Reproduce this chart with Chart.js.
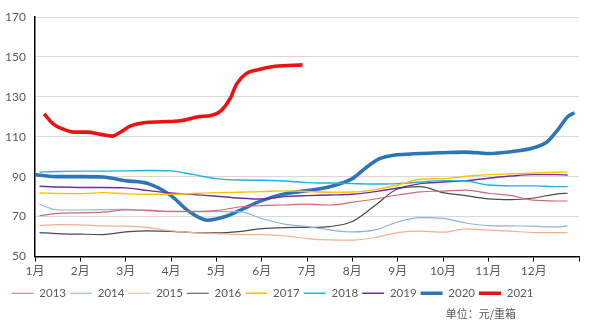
<!DOCTYPE html>
<html>
<head>
<meta charset="utf-8">
<script src="https://cdn.jsdelivr.net/npm/chart.js@4/dist/chart.umd.min.js"></script>
<style>
  html, body { margin: 0; padding: 0; background: #fff; }
  #wrap { width: 590px; height: 332px; }
</style>
</head>
<body>
<div id="wrap"><canvas id="chart"></canvas></div>
<script>
const monthLabels = ['1月', '2月', '3月', '4月', '5月', '6月', '7月', '8月', '9月', '10月', '11月', '12月'];
const yTicks = [50, 70, 90, 110, 130, 150, 170];
const unitText = '单位：元/重箱';

// months since 1 Jan, shared by the thin lines (2013-2019)
const halfMonths = [0.1, 0.5, 1, 1.5, 2, 2.5, 3, 3.5, 4, 4.5, 5, 5.5, 6, 6.5, 7, 7.5, 8, 8.5, 9, 9.5, 10, 10.5, 11, 11.5, 11.75];

const y2013 = [70.5, 71.6, 71.9, 72.2, 73.3, 73.2, 72.6, 72.6, 73, 74.8, 75.5, 75.8, 76.2, 75.8, 77.2, 78.8, 80.8, 82.4, 82.8, 83.3, 81.7, 80.5, 78.2, 77.8, 77.8];
const y2014 = [76.3, 73.3, 73.3, 73.5, 73.6, 72.8, 72.5, 72.5, 72.5, 72.5, 69, 66.2, 65, 63.3, 62.3, 63.3, 67.3, 69.5, 69.1, 66.8, 65.5, 65.3, 65.2, 64.8, 65.3];
const y2015 = [65.5, 66, 65.8, 65.3, 65.2, 64.5, 62.8, 62, 61.5, 61, 61, 60.3, 59, 58.3, 58.2, 59.5, 62, 62.7, 62.2, 63.8, 63.2, 62.7, 62, 62, 62];
const y2016 = [62, 61.5, 61.2, 61, 62.3, 62.8, 62.6, 62, 61.8, 62.5, 64, 64.5, 64.6, 65, 67.5, 75.5, 83.8, 85, 82, 80.5, 78.9, 78.5, 79.3, 81.3, 81.7];
const y2017 = [81.8, 81.6, 81.5, 82, 81.4, 81.2, 81.2, 81.6, 82, 82.2, 82.5, 82.9, 82.6, 82.2, 82.3, 83.5, 85.8, 88.7, 89, 90.2, 91, 91.4, 91.8, 92.2, 92.4];
const y2018 = [92.3, 92.6, 92.8, 92.8, 92.9, 93.1, 92.9, 91, 89, 88.3, 88.2, 87.8, 87, 86.8, 86.5, 86.3, 86.5, 87.3, 88, 87.8, 85.8, 85.4, 85.4, 85, 85];
const y2019 = [85.2, 84.8, 84.6, 84.6, 84.4, 83, 81.8, 81, 80.2, 79.3, 78.8, 80, 80.5, 80.8, 81.2, 82.5, 84.3, 86.5, 87.3, 88, 89.2, 90.3, 91, 91, 90.8];

const x2020 = [0, 0.5, 1, 1.5, 2, 2.5, 3, 3.4, 3.8, 4.2, 4.6, 5, 5.5, 6, 6.5, 7, 7.3, 7.6, 7.9, 8.2, 8.5, 9, 9.5, 10, 10.5, 11, 11.3, 11.55, 11.75, 11.9];
const y2020 = [91, 90, 90, 89.8, 88, 86.5, 80.5, 72.5, 68.2, 70, 74, 78, 81.3, 83, 85, 89, 94.5, 99, 100.7, 101.2, 101.6, 102, 102.3, 101.6, 102.5, 104.5, 107.5, 114, 120, 122];

const x2021 = [0.2, 0.4, 0.6, 0.85, 1.15, 1.45, 1.7, 1.9, 2.1, 2.4, 2.8, 3.2, 3.6, 3.9, 4.1, 4.3, 4.45, 4.65, 4.9, 5.3, 5.9];
const y2021 = [121.5, 116.5, 114, 112.3, 112.3, 111.2, 110.3, 112.5, 115.3, 117, 117.5, 118, 120, 120.8, 123, 129, 136.5, 141.5, 143.5, 145.3, 146];

function pts(xs, ys) {
    return xs.map((x, i) => ({ x: x, y: ys[i] }));
}

function series(label, xs, ys, color, width) {
    return {
        label: label,
        data: pts(xs, ys),
        borderColor: color,
        backgroundColor: color,
        borderWidth: width,
        pointRadius: 0,
        cubicInterpolationMode: 'monotone',
        fill: false
    };
}

const datasets = [
    series('2013', halfMonths, y2013, '#cd6b72', 1.2),
    series('2014', halfMonths, y2014, '#8fb3d1', 1.2),
    series('2015', halfMonths, y2015, '#f2b08e', 1.2),
    series('2016', halfMonths, y2016, '#4a4a4a', 1.2),
    series('2017', halfMonths, y2017, '#ffc000', 1.4),
    series('2018', halfMonths, y2018, '#22b0dc', 1.4),
    series('2019', halfMonths, y2019, '#6f2f9f', 1.4),
    series('2020', x2020, y2020, '#2e75b6', 3.6),
    series('2021', x2021, y2021, '#ee1111', 3.6)
];

const textFont = 'Lato, "Noto Sans CJK SC", sans-serif';

// nudge the legend so it sits left like the original, and write the unit note
const layoutTweaks = {
    id: 'layoutTweaks',
    afterLayout(chart) {
        const lg = chart.legend;
        lg.left -= 17; lg.right -= 17;
        lg.top += 5; lg.bottom += 5;
    },
    afterDraw(chart) {
        const ctx = chart.ctx;
        ctx.save();
        ctx.font = '11px "Noto Sans CJK SC", sans-serif';
        ctx.fillStyle = '#595959';
        ctx.textAlign = 'right';
        ctx.textBaseline = 'middle';
        ctx.fillText(unitText, 516, 314);
        ctx.restore();
    }
};

new Chart(document.getElementById('chart'), {
    type: 'line',
    data: { datasets: datasets },
    plugins: [layoutTweaks],
    options: {
        responsive: true,
        maintainAspectRatio: false,
        animation: false,
        layout: { padding: { left: 0, right: 11, top: 17, bottom: 28 } },
        plugins: {
            tooltip: { enabled: false },
            legend: {
                position: 'bottom',
                align: 'center',
                labels: {
                    usePointStyle: true,
                    pointStyle: 'line',
                    pointStyleWidth: 22,
                    padding: 4,
                    color: '#595959',
                    font: { family: textFont, size: 11.5 }
                }
            }
        },
        scales: {
            x: {
                type: 'linear',
                min: 0,
                max: 12,
                afterBuildTicks: s => { s.ticks = monthLabels.map((_, i) => ({ value: i })).concat([{ value: 12 }]); },
                afterFit: s => { s.height = 22; },
                ticks: {
                    autoSkip: false,
                    maxRotation: 0,
                    padding: 2,
                    color: '#595959',
                    font: { family: textFont, size: 12 },
                    callback: v => monthLabels[v] || ''
                },
                grid: { drawOnChartArea: false, drawTicks: true, tickLength: 5, color: '#000', lineWidth: 1 },
                border: { color: '#000', width: 1.5 }
            },
            y: {
                min: 50,
                max: 170,
                afterBuildTicks: s => { s.ticks = yTicks.map(v => ({ value: v })); },
                afterFit: s => { s.width = 35; },
                ticks: {
                    padding: 9,
                    color: '#595959',
                    font: { family: textFont, size: 12 }
                },
                grid: { color: '#d9d9d9', lineWidth: 1, drawTicks: false },
                border: { color: '#000', width: 1.5 }
            }
        }
    }
});
</script>
</body>
</html>
